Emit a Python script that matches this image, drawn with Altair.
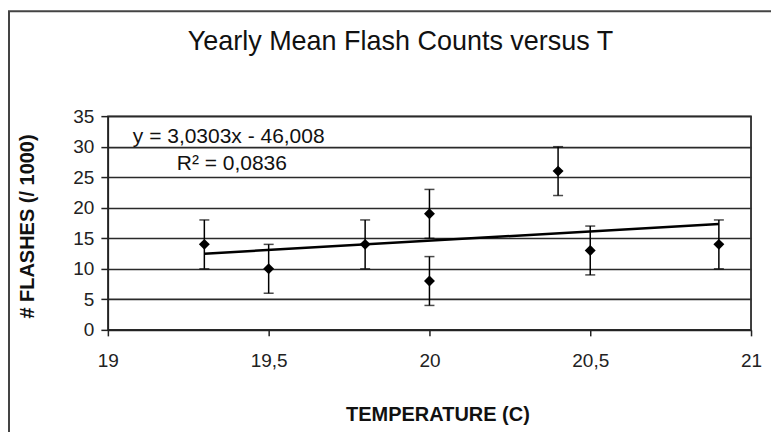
import altair as alt
import pandas as pd

temps = [19.3, 19.5, 19.8, 20.0, 20.0, 20.4, 20.5, 20.9]
flashes = [14, 10, 14, 19, 8, 26, 13, 14]
errors = [4, 4, 4, 4, 4, 4, 4, 4]
x_ticks = [19, 19.5, 20, 20.5, 21]
y_ticks = [0, 5, 10, 15, 20, 25, 30, 35]
title_text = "Yearly Mean Flash Counts versus T"
eq_text = "y = 3,0303x - 46,008"
r2_text = "R² = 0,0836"

df = pd.DataFrame({"t": temps, "f": flashes, "e": errors})
df["lo"] = df["f"] - df["e"]
df["hi"] = df["f"] + df["e"]

FONT = "Liberation Sans"

xs = alt.Scale(domain=[19, 21], nice=False, zero=False)
ys = alt.Scale(domain=[0, 35], nice=False)

x_axis = alt.Axis(values=x_ticks, grid=False, domainColor="#222", domainWidth=1.5,
                  tickColor="#222", tickWidth=1.5, tickSize=6, labelOverlap=False, labelFlush=False,
                  labelExpr="replace(format(datum.value, '.1~f'), '.', ',')",
                  labelFont=FONT, labelFontSize=19, labelColor="#222", labelPadding=16,
                  titleFont=FONT, titleFontSize=20, titleFontWeight="bold", titleColor="#111",
                  titleX=330, titleY=85, titleBaseline="middle", titleAlign="center")
y_axis = alt.Axis(values=y_ticks, grid=True, gridColor="#2a2a2a", gridWidth=1.6,
                  domainColor="#222", domainWidth=1.5, labelOverlap=False, labelFlush=False,
                  tickColor="#222", tickWidth=1.5, tickSize=7,
                  labelFont=FONT, labelFontSize=19, labelColor="#222", labelPadding=7,
                  titleFont=FONT, titleFontSize=20, titleFontWeight="bold", titleColor="#111",
                  titleX=-80, titleY=110, titleAngle=270, titleBaseline="middle",
                  titleAlign="center")

def X(field):
    return alt.X(field, scale=xs, title="TEMPERATURE (C)", axis=x_axis)

def Y(field):
    return alt.Y(field, scale=ys, title="# FLASHES (/ 1000)", axis=y_axis)

base = alt.Chart(df)

bars = base.mark_rule(color="black", strokeWidth=1.5).encode(x=X("t:Q"), y=Y("lo:Q"), y2="hi:Q")
cap_lo = base.mark_tick(color="black", orient="horizontal", size=10, thickness=1.5).encode(x=X("t:Q"), y=Y("lo:Q"))
cap_hi = base.mark_tick(color="black", orient="horizontal", size=10, thickness=1.5).encode(x=X("t:Q"), y=Y("hi:Q"))
pts = base.mark_point(shape="diamond", filled=True, color="black", size=120, opacity=1).encode(x=X("t:Q"), y=Y("f:Q"))
trend = base.transform_regression("t", "f").mark_line(color="black", strokeWidth=2.5).encode(x=X("t:Q"), y=Y("f:Q"))

right_edge = alt.Chart(pd.DataFrame({"xe": [x_ticks[-1]], "y0": [y_ticks[0]], "y1": [y_ticks[-1]]})).mark_rule(
    color="#333", strokeWidth=1.5
).encode(x=X("xe:Q"), y=Y("y0:Q"), y2="y1:Q")

def label(text, x, y, size, weight="normal", align="left"):
    return alt.Chart(pd.DataFrame({"s": [text]})).mark_text(
        font=FONT, fontSize=size, fontWeight=weight, align=align, baseline="alphabetic", color="#111"
    ).encode(x=alt.value(x), y=alt.value(y), text="s:N")

title = label(title_text, 293, -66, 27, align="center")
eq = label(eq_text, 25, 27, 21)
r2 = label(r2_text, 69, 54, 21)

frame = alt.Chart(pd.DataFrame({"a": [0]})).mark_rect(
    fill=None, stroke="#444", strokeWidth=2
).encode(x=alt.value(-99), x2=alt.value(720), y=alt.value(-105), y2=alt.value(400))

chart = alt.layer(frame, right_edge, bars, cap_lo, cap_hi, trend, pts, title, eq, r2).properties(
    width=644, height=214,
    padding={"left": 100, "top": 108, "right": 20, "bottom": 110},
    autosize="none",
    background="white",
).configure_view(stroke="#333", strokeWidth=1.5)

chart.save("out.html", embed_options={"renderer": "svg", "actions": False})
